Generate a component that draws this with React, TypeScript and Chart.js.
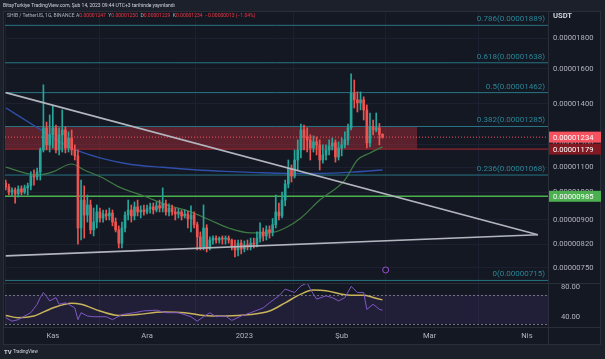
import React, { useEffect, useRef } from 'react';
import { Chart, registerables } from 'chart.js';

Chart.register(...registerables);

const FONT = 'Roboto, "Noto Sans", sans-serif';

// SHIB / TetherUS daily candles. Prices in units of 1e-8 USDT. Day 0 = 17 Eki 2022.
const candleOpen = [
  1036, 1021, 1001, 1009, 994, 1013, 1001, 1017, 1025, 1064,
  1060, 1081, 1175, 1278, 1198, 1245, 1278, 1175, 1245, 1268,
  1184, 1230, 1175, 1149, 873, 971, 917, 953, 867, 893,
  928, 907, 921, 914, 924, 893, 867, 824, 873, 917,
  935, 914, 946, 928, 935, 928, 939, 946, 935, 950,
  942, 957, 928, 942, 928, 921, 928, 914, 921, 904,
  917, 884, 844, 812, 873, 809, 834, 840, 834, 840,
  837, 840, 834, 815, 803, 824, 806, 818, 812, 824,
  821, 840, 860, 847, 867, 860, 884, 928, 914, 971,
  1032, 1097, 1064, 1131, 1175, 1268, 1235, 1221, 1184, 1212,
  1198, 1131, 1153, 1175, 1193, 1207, 1144, 1184, 1198, 1221,
  1278, 1460, 1422, 1406, 1422, 1369, 1207, 1283, 1268, 1278,
  1247,
];
const candleHigh = [
  1048, 1032, 1017, 1017, 1025, 1025, 1028, 1036, 1081, 1089,
  1097, 1184, 1506, 1307, 1343, 1390, 1292, 1278, 1369, 1283,
  1259, 1268, 1198, 1175, 1048, 1025, 990, 971, 942, 953,
  942, 935, 935, 942, 935, 907, 880, 893, 928, 971,
  953, 964, 971, 950, 953, 953, 960, 960, 964, 971,
  1017, 971, 957, 953, 942, 939, 935, 935, 931, 950,
  928, 893, 860, 953, 884, 844, 847, 847, 844, 847,
  847, 847, 837, 834, 834, 834, 831, 834, 840, 840,
  860, 890, 873, 880, 880, 905, 990, 960, 1001, 1048,
  1131, 1110, 1175, 1221, 1297, 1292, 1278, 1245, 1240, 1235,
  1221, 1198, 1198, 1221, 1230, 1221, 1212, 1230, 1259, 1297,
  1570, 1534, 1466, 1466, 1439, 1395, 1353, 1317, 1353, 1300,
  1250,
];
const candleLow = [
  1009, 990, 986, 960, 982, 990, 994, 990, 1009, 1028,
  1048, 1048, 1166, 1175, 1166, 1184, 1162, 1153, 1166, 1162,
  1166, 1153, 1131, 821, 834, 840, 893, 854, 847, 873,
  893, 893, 900, 900, 880, 860, 809, 809, 860, 900,
  893, 900, 914, 907, 917, 921, 924, 921, 928, 928,
  928, 917, 914, 917, 900, 907, 900, 907, 873, 860,
  873, 803, 803, 803, 797, 803, 821, 824, 824, 821,
  821, 824, 803, 782, 785, 791, 797, 803, 803, 809,
  812, 827, 831, 834, 840, 847, 873, 900, 907, 950,
  1017, 1040, 1056, 1089, 1140, 1175, 1166, 1131, 1166, 1153,
  1089, 1118, 1131, 1153, 1175, 1122, 1131, 1149, 1184, 1198,
  1268, 1379, 1358, 1369, 1317, 1184, 1189, 1245, 1259, 1198,
  1229,
];
const candleClose = [
  1021, 1001, 1009, 994, 1013, 1001, 1017, 1025, 1064, 1060,
  1081, 1175, 1278, 1198, 1245, 1278, 1175, 1245, 1268, 1184,
  1230, 1175, 1149, 873, 971, 917, 953, 867, 893, 928,
  907, 921, 914, 924, 893, 867, 824, 873, 917, 935,
  914, 946, 928, 935, 928, 939, 946, 935, 950, 942,
  957, 928, 942, 928, 921, 928, 914, 921, 904, 917,
  884, 844, 812, 873, 809, 834, 840, 834, 840, 837,
  840, 834, 815, 803, 824, 806, 818, 812, 824, 821,
  840, 860, 847, 867, 860, 884, 928, 914, 971, 1032,
  1097, 1064, 1131, 1175, 1268, 1235, 1221, 1184, 1212, 1198,
  1131, 1153, 1175, 1193, 1207, 1144, 1184, 1198, 1221, 1278,
  1460, 1422, 1406, 1422, 1369, 1207, 1283, 1268, 1278, 1247,
  1234,
];

// Moving averages
const maFastDays = [0, 10, 15, 21, 25, 31, 36, 44, 52, 58, 65, 71, 78, 84, 89, 94, 100, 108, 112, 116, 120];
const maFastValues = [1101, 1068, 1081, 1114, 1089, 1056, 1021, 986, 950, 932, 900, 873, 857, 857, 873, 907, 971, 1048, 1131, 1162, 1189];
const maSlowDays = [0, 10, 20, 30, 40, 50, 60, 70, 80, 90, 100, 110, 120];
const maSlowValues = [1380, 1280, 1190, 1140, 1112, 1100, 1090, 1083, 1078, 1075, 1075, 1080, 1089];

// RSI pane
const rsiDays = [0, 2, 4, 6, 8, 10, 11, 12, 13, 14, 16, 17, 19, 20, 22, 23, 24, 26, 28, 32, 34, 37, 41, 44, 48, 51, 55, 59, 61, 63, 65, 67, 70, 72, 75, 78, 82, 84, 87, 89, 92, 94, 96, 97, 99, 102, 104, 106, 108, 110, 112, 114, 115, 117, 119, 120];
const rsiValues = [38.6, 34, 36, 41, 45.5, 57, 66, 73, 67.6, 61.6, 66, 57, 59, 57, 52, 36, 45.5, 41, 40, 40, 36, 43, 45.5, 48, 49, 45.5, 45.5, 40, 34, 40, 45.5, 40, 41, 35, 41, 45.5, 52, 59, 68.5, 77.7, 73, 82, 86, 77.7, 64, 68.5, 66, 61.6, 66, 81.4, 73, 73, 50, 57, 50, 49];
const rsiMaDays = [0, 4, 9, 15, 21, 24, 30, 36, 42, 50, 57, 63, 70, 78, 84, 89, 94, 98, 102, 107, 110, 114, 117, 120];
const rsiMaValues = [41.8, 38.6, 41, 52, 58.4, 57, 47.8, 41.8, 43, 46.4, 45.5, 41.8, 41, 43, 47.8, 59, 70.8, 76.3, 75.4, 70.8, 69.4, 69.4, 66.2, 63];

// Drawings
const fibRatios = ['0.786', '0.618', '0.5', '0.382', '0.236', '0'];
const fibLevels = [1889, 1638, 1462, 1285, 1068, 715];
const supportLevel = 985;
const zoneTop = 1285;
const zoneBottom = 1179;
const zoneEndDay = 131;
const lastPrice = 1234;
const trendDownDays = [0, 169.5];
const trendDownValues = [1462, 851];
const trendUpDays = [0, 169.5];
const trendUpValues = [785, 851];
const eventDay = 121;
const eventPrice = 744;

// Axes
const priceTicks = [1800, 1600, 1400, 1200, 1100, 1000, 900, 820, 750];
const rsiTicks = [80, 40];
const monthTicks = [15, 45, 76, 107, 135, 166];
const monthLabels = ['Kas', 'Ara', '2023', 'Şub', 'Mar', 'Nis'];
const X_MIN = -0.23;
const X_MAX = 172.7;

const UP = '#26a69a';
const DOWN = '#ef5350';
const FIB = '#277585';
const FIB_TEXT = '#2b8597';
const fmt = (v: number) => (v / 1e8).toFixed(8);

const pairs = (xs: number[], ys: number[]) => xs.map((x, i) => ({ x, y: ys[i] }));
const hline = (v: number) => [{ x: X_MIN, y: v }, { x: X_MAX, y: v }];

const overlayPlugin = {
  id: 'tvOverlay',
  beforeDraw(chart: any) {
    const { ctx } = chart;
    ctx.save();
    ctx.fillStyle = '#1c202b';
    ctx.fillRect(0, 0, chart.width, chart.height);
    ctx.fillStyle = '#141823';
    ctx.fillRect(3, 11, 598, 334);
    ctx.restore();
  },
  beforeDatasetsDraw(chart: any) {
    const { ctx, chartArea: ca, scales } = chart;
    const xs = scales.x, ys = scales.y, rs = scales.rsi;
    ctx.save();
    const r70 = rs.getPixelForValue(70), r30 = rs.getPixelForValue(30);
    ctx.fillStyle = 'rgba(126, 87, 194, 0.13)';
    ctx.fillRect(ca.left, r70, ca.right - ca.left, r30 - r70);
    ctx.setLineDash([2, 2]);
    ctx.strokeStyle = 'rgba(120, 123, 134, 0.9)';
    ctx.lineWidth = 1;
    for (const v of [70, 30]) {
      const p = Math.round(rs.getPixelForValue(v)) + 0.5;
      ctx.beginPath(); ctx.moveTo(ca.left, p); ctx.lineTo(ca.right, p); ctx.stroke();
    }
    ctx.setLineDash([]);
    const zx0 = ca.left, zx1 = xs.getPixelForValue(zoneEndDay);
    const zy0 = ys.getPixelForValue(zoneTop), zy1 = ys.getPixelForValue(zoneBottom);
    ctx.fillStyle = 'rgba(242, 54, 69, 0.32)';
    ctx.fillRect(zx0, zy0, zx1 - zx0, zy1 - zy0);
    ctx.restore();
  },
  afterDraw(chart: any) {
    const { ctx, chartArea: ca, scales } = chart;
    const ys = scales.y;
    ctx.save();
    // frame lines
    ctx.strokeStyle = '#2a2e39';
    ctx.lineWidth = 1;
    ctx.strokeRect(3.5, 11.5, 597, 333);
    const sep = Math.round(ys.bottom) + 0.5;
    ctx.beginPath(); ctx.moveTo(3, sep); ctx.lineTo(601, sep); ctx.stroke();
    const tAx = Math.round(ca.bottom) + 0.5;
    ctx.beginPath(); ctx.moveTo(3, tAx); ctx.lineTo(601, tAx); ctx.stroke();
    const pAx = Math.round(ca.right) + 0.5;
    ctx.beginPath(); ctx.moveTo(pAx, 11); ctx.lineTo(pAx, 345); ctx.stroke();

    // fib labels
    ctx.font = `8px ${FONT}`;
    ctx.fillStyle = FIB_TEXT;
    ctx.textAlign = 'right';
    ctx.textBaseline = 'bottom';
    fibLevels.forEach((lv, i) => {
      const py = ys.getPixelForValue(lv);
      ctx.fillText(`${fibRatios[i]}(${fmt(lv)})`, ca.right - 3, py - 2);
    });

    // price label boxes
    const box = (v: number, bg: string) => {
      const py = ys.getPixelForValue(v);
      ctx.fillStyle = bg;
      ctx.fillRect(ca.right + 1, py - 5.5, 601 - ca.right - 1, 11);
      ctx.fillStyle = '#ffffff';
      ctx.font = `7.6px ${FONT}`;
      ctx.textAlign = 'left';
      ctx.textBaseline = 'middle';
      ctx.fillText(fmt(v), ca.right + 5, py + 0.5);
    };
    box(lastPrice, '#f7525f');
    box(zoneBottom, '#801922');
    box(supportLevel, '#4caf50');

    // USDT
    ctx.font = `bold 7.6px ${FONT}`;
    ctx.fillStyle = '#d1d4dc';
    ctx.textAlign = 'left';
    ctx.textBaseline = 'middle';
    ctx.fillText('USDT', 553, 16);

    // header
    ctx.font = `5px ${FONT}`;
    ctx.fillStyle = '#d1d4dc';
    ctx.fillText('BitayTurkiye TradingView.com, Şub 14, 2023 09:44 UTC+3 tarihinde yayınlandı', 3, 5.5);

    // legend
    let lx = 7;
    const ly = 16;
    const seg = (t: string, c: string) => { ctx.fillStyle = c; ctx.fillText(t, lx, ly); lx += ctx.measureText(t).width; };
    ctx.font = `5px ${FONT}`;
    seg('SHIB / TetherUS, 1G, BINANCE', '#b2b5be');
    lx = 76;
    const red = '#f23645';
    const gray = '#b2b5be';
    seg('A', gray); seg(fmt(candleOpen[candleOpen.length - 1]) + '  ', red);
    seg('Y', gray); seg(fmt(candleHigh[candleHigh.length - 1]) + '  ', red);
    seg('D', gray); seg(fmt(candleLow[candleLow.length - 1]) + '  ', red);
    seg('K', gray); seg(fmt(candleClose[candleClose.length - 1]) + '  ', red);
    seg('−0.00000013 (−1.04%)', red);

    // logo
    ctx.fillStyle = '#d1d4dc';
    ctx.font = `bold 6px ${FONT}`;
    ctx.fillText('TV', 4, 352);
    ctx.font = `4.5px ${FONT}`;
    ctx.fillText('TradingView', 13, 352);
    ctx.restore();
  },
};

export default function App() {
  const ref = useRef<HTMLCanvasElement>(null);
  useEffect(() => {
    const canvas = ref.current;
    if (!canvas) return;
    const n = candleOpen.length;
    const idx = Array.from({ length: n }, (_, i) => i);
    const colors = idx.map((i) => (candleClose[i] >= candleOpen[i] ? UP : DOWN));
    const lineBase = { type: 'line', pointRadius: 0, fill: false, yAxisID: 'y' };

    const datasets: any[] = [
      { ...lineBase, data: pairs(trendDownDays, trendDownValues), borderColor: '#b2b5be', borderWidth: 1.6, order: 0 },
      { ...lineBase, data: pairs(trendUpDays, trendUpValues), borderColor: '#b2b5be', borderWidth: 1.6, order: 0 },
      {
        type: 'line', data: [{ x: eventDay, y: eventPrice }], showLine: false, yAxisID: 'y',
        pointRadius: 3, pointStyle: 'circle', pointBorderColor: '#9c4fd0', pointBackgroundColor: '#131722', pointBorderWidth: 1, order: 0,
      },
      {
        type: 'bar', yAxisID: 'y', data: idx.map((i) => ({ x: i, y: [candleOpen[i], candleClose[i]] })),
        backgroundColor: colors, barThickness: 2, minBarLength: 1, grouped: false, order: 1,
      },
      {
        type: 'bar', yAxisID: 'y', data: idx.map((i) => ({ x: i, y: [candleLow[i], candleHigh[i]] })),
        backgroundColor: colors, barThickness: 1, grouped: false, order: 2,
      },
      { ...lineBase, data: pairs(maFastDays, maFastValues), borderColor: '#3f7a45', borderWidth: 1.2, cubicInterpolationMode: 'monotone', order: 3 },
      { ...lineBase, data: pairs(maSlowDays, maSlowValues), borderColor: '#2f4fa8', borderWidth: 1.4, cubicInterpolationMode: 'monotone', order: 3 },
      ...fibLevels.map((lv) => ({ ...lineBase, data: hline(lv), borderColor: FIB, borderWidth: 1, order: 5 })),
      { ...lineBase, data: hline(supportLevel), borderColor: '#4caf50', borderWidth: 1.4, order: 5 },
      { ...lineBase, data: hline(zoneBottom), borderColor: '#8e2530', borderWidth: 1.2, order: 5 },
      { ...lineBase, data: hline(lastPrice), borderColor: '#f7525f', borderWidth: 1, borderDash: [1, 2], order: 5 },
      { ...lineBase, yAxisID: 'rsi', data: pairs(rsiDays, rsiValues), borderColor: '#7e57c2', borderWidth: 1, order: 4 },
      { ...lineBase, yAxisID: 'rsi', data: pairs(rsiMaDays, rsiMaValues), borderColor: '#c9b45c', borderWidth: 1.5, cubicInterpolationMode: 'monotone', order: 4 },
    ];

    const tickFont = { family: FONT, size: 7.6 };
    const chart = new Chart(canvas, {
      type: 'bar',
      data: { datasets },
      plugins: [overlayPlugin],
      options: {
        responsive: false,
        animation: false,
        devicePixelRatio: 1,
        events: [],
        layout: { padding: { left: 3, top: 11, right: 4, bottom: 14 } },
        plugins: { legend: { display: false }, tooltip: { enabled: false } },
        scales: {
          x: {
            type: 'linear', min: X_MIN, max: X_MAX, offset: false, position: 'bottom',
            afterBuildTicks: (s: any) => { s.ticks = monthTicks.map((v) => ({ value: v })); },
            afterFit: (s: any) => { s.height = 18; },
            ticks: {
              callback: (_v: any, i: number) => monthLabels[i],
              color: '#b2b5be', font: tickFont, padding: 5, maxRotation: 0, autoSkip: false,
            },
            grid: { color: '#1c2030', drawTicks: false },
            border: { display: false },
          },
          y: {
            type: 'logarithmic', position: 'right', stack: 'panes', stackWeight: 272,
            min: 708, max: 1995, offset: false,
            afterBuildTicks: (s: any) => { s.ticks = priceTicks.map((v) => ({ value: v })); },
            afterFit: (s: any) => { s.width = 53; },
            ticks: { callback: (v: any) => fmt(Number(v)), color: '#b2b5be', font: tickFont, padding: 5, autoSkip: false },
            grid: { color: '#1c2030', drawTicks: false },
            border: { display: false },
          },
          rsi: {
            type: 'linear', position: 'right', stack: 'panes', stackWeight: 44,
            min: 26, max: 86, offset: false,
            afterBuildTicks: (s: any) => { s.ticks = rsiTicks.map((v) => ({ value: v })); },
            afterFit: (s: any) => { s.width = 53; },
            ticks: { callback: (v: any) => Number(v).toFixed(2), color: '#b2b5be', font: tickFont, padding: 5, autoSkip: false },
            grid: { display: false },
            border: { display: false },
          },
        },
      } as any,
    } as any);
    return () => chart.destroy();
  }, []);

  return (
    <div style={{ position: 'fixed', left: 0, top: 0, width: 605, height: 359, background: '#1c202b' }}>
      <canvas ref={ref} width={605} height={359} style={{ display: 'block', width: 605, height: 359 }} />
    </div>
  );
}
